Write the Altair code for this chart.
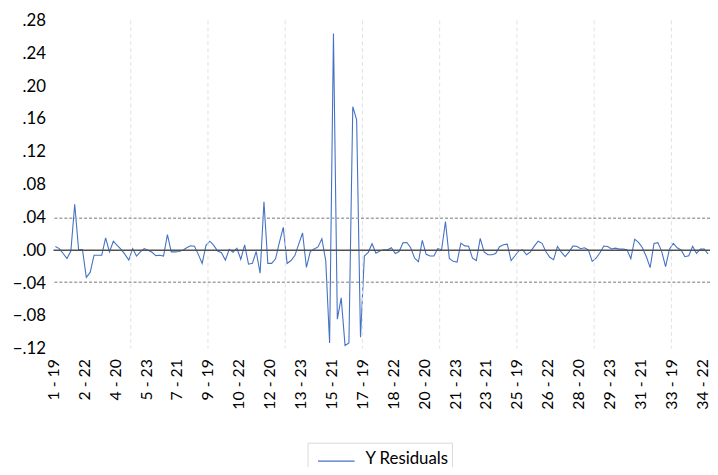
import altair as alt
import pandas as pd

# Residual values, one per observation (cross-section - period), in order
residuals = [
    0.0045, 0.002, -0.004, -0.010, -0.001, 0.056, 0.001, 0.001, -0.033, -0.027,
    -0.006, -0.006, -0.006, 0.015, -0.002, 0.011, 0.006, 0.001, -0.005, -0.012,
    0.002, -0.007, -0.002, 0.002, 0.000, -0.0025, -0.0065, -0.006, -0.007, 0.019,
    -0.002, -0.002, -0.0015, 0.000, 0.003, 0.0055, 0.005, -0.005, -0.016, 0.006,
    0.011, 0.006, -0.001, -0.003, -0.012, 0.001, -0.0025, 0.0025, -0.011, 0.0065,
    -0.017, -0.016, -0.0015, -0.028, 0.059, -0.016, -0.016, -0.0105, 0.0095, 0.028,
    -0.016, -0.0125, -0.0065, 0.0075, 0.021, -0.021, -0.0015, 0.0015, 0.004, 0.014,
    -0.013, -0.113, 0.264, -0.084, -0.058, -0.116, -0.113, 0.175, 0.159, -0.106,
    -0.007, -0.0025, 0.008, -0.0035, -0.001, 0.0005, 0.0005, 0.003, -0.004, -0.0015,
    0.009, 0.0095, 0.003, -0.0095, -0.014, 0.012, -0.005, -0.007, -0.007, 0.002,
    0.0005, 0.035, -0.010, -0.0135, -0.0145, 0.0087, 0.0053, 0.0048, -0.0097, -0.0125,
    0.0145, -0.002, -0.0055, -0.0055, -0.004, 0.0044, 0.0068, 0.0075, -0.0125, -0.0067,
    -0.0005, 0.0005, -0.0055, -0.002, 0.005, 0.011, 0.0085, -0.0015, -0.0085, -0.0115,
    0.0046, -0.0022, -0.0077, -0.002, 0.005, 0.0048, 0.0018, 0.003, 0.0004, -0.0135,
    -0.0097, -0.003, 0.0052, 0.0046, 0.0016, 0.0026, 0.0014, 0.0014, 0.0005, -0.0102,
    0.0135, 0.0095, 0.003, -0.0077, -0.0212, 0.0083, 0.0093, -0.0016, -0.020, 0.0014,
    0.0085, 0.003, 0.0004, -0.0078, -0.0067, 0.0048, -0.0038, 0.0014, 0.0014, -0.0046,
]

tick_labels = ["1 - 19", "2 - 22", "4 - 20", "5 - 23", "7 - 21", "9 - 19",
               "10 - 22", "12 - 20", "13 - 23", "15 - 21", "17 - 19", "18 - 22",
               "20 - 20", "21 - 23", "23 - 21", "25 - 19", "26 - 22", "28 - 20",
               "29 - 23", "31 - 21", "33 - 19", "34 - 22"]
label_step = 8
y_ticks = [-0.12, -0.08, -0.04, 0.00, 0.04, 0.08, 0.12, 0.16, 0.20, 0.24, 0.28]
grid_obs = [20, 40, 60, 80, 100, 120, 140, 160]
bands = [0.039, -0.039]
zero = [0.0]
series_name = "Y Residuals"

n = len(residuals)
df = pd.DataFrame({
    "pos": [i + 0.5 for i in range(n)],
    "res": residuals,
    "series": [series_name] * n,
})
tick_values = [label_step * k for k in range(len(tick_labels))]
label_arr = "[" + ",".join("'" + t + "'" for t in tick_labels) + "]"

FONT = "Lato"
xscale = alt.Scale(domain=[0, n], nice=False, zero=False)
yscale = alt.Scale(domain=[-0.12, 0.28], nice=False, zero=False)

x_axis = alt.Axis(values=tick_values,
                  labelExpr=label_arr + "[round(datum.value/" + str(label_step) + ")]",
                  labelAngle=270, grid=False, ticks=False, domain=False,
                  tickSize=0, labelPadding=10, labelFontSize=16, labelFont=FONT,
                  labelColor="#000000", labelOverlap=False, labelFlush=False,
                  labelBound=False, title=None)
y_axis = alt.Axis(values=y_ticks,
                  labelExpr="replace(format(datum.value, '.2f'), '0.', '.')",
                  grid=False, ticks=False, domain=False, tickSize=0,
                  labelPadding=8, labelAlign="right", labelBaseline="middle",
                  labelFontSize=17, labelFont=FONT, labelColor="#000000",
                  title=None)

line = alt.Chart(df).mark_line(strokeWidth=1.1).encode(
    x=alt.X("pos:Q", scale=xscale, axis=x_axis, title=None),
    y=alt.Y("res:Q", scale=yscale, axis=y_axis, title=None),
    color=alt.Color("series:N", scale=alt.Scale(range=["#4472C4"]),
                    legend=alt.Legend(orient="none", legendX=257, legendY=427,
                                      title=None, symbolType="M-0.62,-0.18H1.38",
                                      symbolSize=1369, symbolStrokeWidth=1.2,
                                      labelFontSize=17, labelFont=FONT,
                                      labelBaseline="alphabetic",
                                      labelColor="#000000", labelOffset=17,
                                      padding=2.5, strokeColor="#d9d9d9",
                                      fillColor="#ffffff")),
)

grid = alt.Chart(pd.DataFrame({"g": grid_obs})).mark_rule(
    color="#e2e2e2", strokeDash=[4, 3], strokeWidth=1
).encode(x=alt.X("g:Q", scale=xscale, axis=x_axis, title=None))

band = alt.Chart(pd.DataFrame({"b": bands})).mark_rule(
    color="#a3a3a3", strokeDash=[3, 2], strokeWidth=1.3
).encode(y=alt.Y("b:Q", scale=yscale, axis=y_axis, title=None))

zline = alt.Chart(pd.DataFrame({"z": zero})).mark_rule(
    color="#505050", strokeWidth=1.5
).encode(y=alt.Y("z:Q", scale=yscale, axis=y_axis, title=None))

chart = alt.layer(line, grid, band, zline).properties(
    width=664, height=332,
    autosize=alt.AutoSizeParams(type="none"),
    padding={"left": 46, "top": 10, "right": 0, "bottom": 117},
    background="#ffffff",
).configure_view(stroke=None)

chart.save("out.html", embed_options={"renderer": "svg", "actions": False})
